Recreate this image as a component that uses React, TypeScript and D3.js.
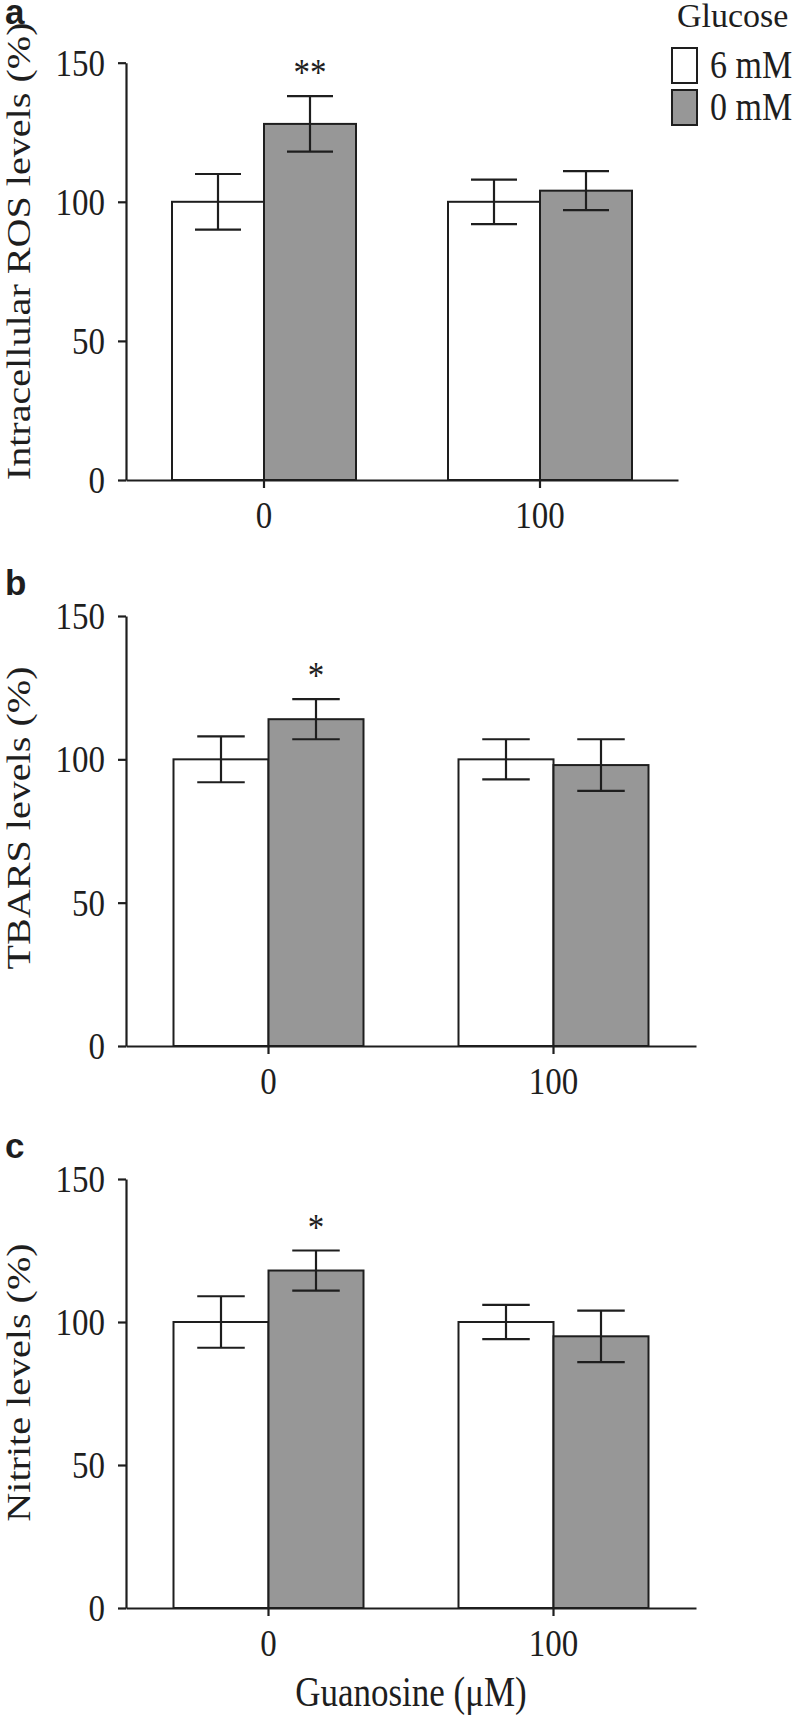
import React, { useEffect, useRef } from "react";
import * as d3 from "d3";

// x categories (guanosine, µM) and series (glucose)
const guanosine = ["0", "100"];
const glucose = ["6 mM", "0 mM"];
const yTicks = [0, 50, 100, 150];

// a: intracellular ROS
const rosMean6 = [100, 100];
const rosSem6 = [10, 8];
const rosMean0 = [128, 104];
const rosSem0 = [10, 7];
const rosStars = ["**", ""];

// b: TBARS
const tbarsMean6 = [100, 100];
const tbarsSem6 = [8, 7];
const tbarsMean0 = [114, 98];
const tbarsSem0 = [7, 9];
const tbarsStars = ["*", ""];

// c: nitrite
const nitriteMean6 = [100, 100];
const nitriteSem6 = [9, 6];
const nitriteMean0 = [118, 95];
const nitriteSem0 = [7, 9];
const nitriteStars = ["*", ""];

const W = 792;
const H = 1719;
const LEFT = 126;
const STRETCH = 1.18; // the original figure's text is a bit taller than wide
const serif = "'Liberation Serif', 'Times New Roman', serif";
const sans = "'Liberation Sans', Arial, sans-serif";
const ink = "#1e1e1e";
const fills: Record<string, string> = { "6 mM": "#ffffff", "0 mM": "#979797" };

const panels = [
  {
    letter: "a", letterY: 24, title: "Intracellular ROS levels (%)",
    top: 62.7, bottom: 480, right: 678, titleShift: -20,
    means: [rosMean6, rosMean0], sems: [rosSem6, rosSem0], stars: rosStars,
  },
  {
    letter: "b", letterY: 595, title: "TBARS levels (%)",
    top: 616, bottom: 1046, right: 696, titleShift: -13,
    means: [tbarsMean6, tbarsMean0], sems: [tbarsSem6, tbarsSem0], stars: tbarsStars,
  },
  {
    letter: "c", letterY: 1158, title: "Nitrite levels (%)",
    top: 1179, bottom: 1608, right: 696, titleShift: -11,
    means: [nitriteMean6, nitriteMean0], sems: [nitriteSem6, nitriteSem0], stars: nitriteStars,
  },
];

const stretched = (x: number, y: number) => `translate(${x},${y}) scale(1,${STRETCH})`;

export default function App() {
  const svgRef = useRef<SVGSVGElement>(null);

  useEffect(() => {
    const svg = d3.select(svgRef.current);
    svg.selectAll("*").remove();

    panels.forEach((p) => {
      const y = d3.scaleLinear().domain([0, 150]).range([p.bottom, p.top]);
      const x0 = d3
        .scaleBand()
        .domain(guanosine)
        .range([LEFT, p.right])
        .paddingInner(1 / 3)
        .paddingOuter(1 / 6);
      const x1 = d3.scaleBand().domain(glucose).range([0, x0.bandwidth()]);
      const bw = x1.bandwidth();

      const rows = guanosine.flatMap((g, i) =>
        glucose.map((s, j) => ({
          g,
          s,
          mean: p.means[j][i],
          sem: p.sems[j][i],
          star: j === 1 ? p.stars[i] : "",
        }))
      );
      const cx = (d) => (x0(d.g) as number) + (x1(d.s) as number) + bw / 2;

      const g = svg.append("g");

      g.selectAll("rect")
        .data(rows)
        .join("rect")
        .attr("x", (d) => (x0(d.g) as number) + (x1(d.s) as number))
        .attr("y", (d) => y(d.mean))
        .attr("width", bw)
        .attr("height", (d) => y(0) - y(d.mean))
        .attr("fill", (d) => fills[d.s])
        .attr("stroke", ink)
        .attr("stroke-width", 2);

      const err = g.append("g").attr("stroke", ink).attr("stroke-width", 2.2);
      err.selectAll(".stem")
        .data(rows)
        .join("line")
        .attr("x1", cx)
        .attr("x2", cx)
        .attr("y1", (d) => y(d.mean - d.sem))
        .attr("y2", (d) => y(d.mean + d.sem));
      [1, -1].forEach((sign) => {
        err.selectAll(`.cap${sign}`)
          .data(rows)
          .join("line")
          .attr("x1", (d) => cx(d) - bw / 4)
          .attr("x2", (d) => cx(d) + bw / 4)
          .attr("y1", (d) => y(d.mean + sign * d.sem))
          .attr("y2", (d) => y(d.mean + sign * d.sem));
      });

      g.selectAll(".star")
        .data(rows.filter((d) => d.star))
        .join("text")
        .attr("transform", (d) => stretched(cx(d), y(d.mean + d.sem) - 11))
        .attr("text-anchor", "middle")
        .attr("font-family", serif)
        .attr("font-size", 33)
        .attr("fill", ink)
        .text((d) => d.star);

      const yAxis = g
        .append("g")
        .attr("transform", `translate(${LEFT},0)`)
        .call(d3.axisLeft(y).tickValues(yTicks).tickSize(8).tickSizeOuter(0).tickPadding(13));
      const xAxis = g
        .append("g")
        .attr("transform", `translate(0,${p.bottom})`)
        .call(d3.axisBottom(x0).tickSize(8).tickSizeOuter(0).tickPadding(9));
      [yAxis, xAxis].forEach((a) => {
        a.attr("font-family", serif).attr("font-size", 33);
        a.selectAll("line, path").attr("stroke", ink).attr("stroke-width", 2.2);
        a.selectAll("text").attr("fill", ink).attr("transform", `scale(1,${STRETCH})`);
      });

      g.append("text")
        .attr(
          "transform",
          `translate(30,${(p.top + p.bottom) / 2 + p.titleShift}) scale(1,${STRETCH}) rotate(-90)`
        )
        .attr("text-anchor", "middle")
        .attr("font-family", serif)
        .attr("font-size", 34)
        .attr("fill", ink)
        .text(p.title);

      g.append("text")
        .attr("x", 5)
        .attr("y", p.letterY)
        .attr("font-family", sans)
        .attr("font-weight", "bold")
        .attr("font-size", 35)
        .attr("fill", ink)
        .text(p.letter);
    });

    svg.append("text")
      .attr("transform", stretched((LEFT + 696) / 2, 1706))
      .attr("text-anchor", "middle")
      .attr("font-family", serif)
      .attr("font-size", 35)
      .attr("fill", ink)
      .text("Guanosine (\u03bcM)");

    // legend
    const legend = svg.append("g");
    legend.append("text")
      .attr("x", 677)
      .attr("y", 27)
      .attr("font-family", serif)
      .attr("font-size", 34)
      .attr("fill", ink)
      .text("Glucose");
    const items = legend
      .selectAll(".item")
      .data(glucose)
      .join("g")
      .attr("transform", (d, i) => `translate(672,${48 + i * 42})`);
    items.append("rect")
      .attr("width", 25)
      .attr("height", 35)
      .attr("fill", (d) => fills[d])
      .attr("stroke", ink)
      .attr("stroke-width", 2);
    items.append("text")
      .attr("transform", stretched(38, 30))
      .attr("font-family", serif)
      .attr("font-size", 34)
      .attr("fill", ink)
      .text((d) => d);
  }, []);

  return (
    <svg
      ref={svgRef}
      width={W}
      height={H}
      style={{ position: "absolute", left: 0, top: 0, background: "#fff" }}
    />
  );
}
